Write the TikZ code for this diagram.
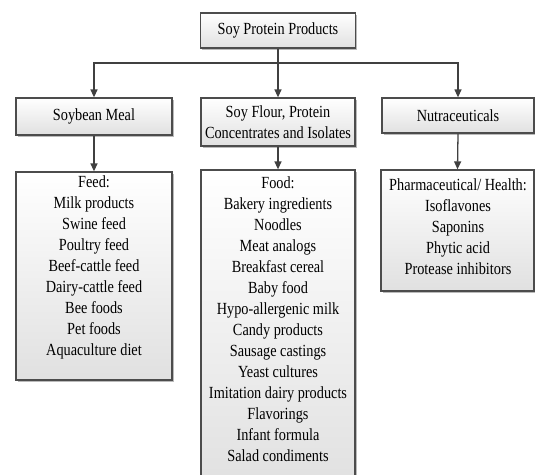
\documentclass[tikz,border=0pt]{standalone}
\usepackage{fontspec}
\setmainfont{Liberation Serif}[FakeStretch=0.84]
\usetikzlibrary{arrows.meta, shadows}

\begin{document}
\begin{tikzpicture}[x=1pt, y=-1pt,
    % 定义样式:框、连线、文字
    mybox/.style={rectangle, line width=0.45mm, draw=black!70, top color=white, bottom color=black!12, drop shadow={shadow xshift=1.5pt, shadow yshift=-1.5pt, fill=black!45, opacity=0.6}, inner sep=0pt},
    myline/.style={line width=0.45mm, draw=black!75},
    myarrow/.style={myline, -{Triangle[length=8pt, width=7pt]}},
    mytext/.style={font=\fontsize{17}{21}\selectfont, align=center, inner sep=0pt}
]
    \useasboundingbox (0,0) rectangle (535,474);
    \clip (0,0) rectangle (535,474);

    % 第一层
    \node [mybox, mytext, minimum width=155pt, minimum height=35pt] (spp) at (278, 30.5) {Soy Protein Products};

    % 第二层
    \node [mybox, mytext, minimum width=156pt, minimum height=37pt] (meal) at (94, 116.5) {Soybean Meal};
    \node [mybox, mytext, minimum width=154pt, minimum height=48pt] (flour) at (278, 122) {Soy Flour, Protein\\Concentrates and Isolates};
    \node [mybox, mytext, minimum width=152pt, minimum height=35pt] (nutra) at (458, 115.5) {Nutraceuticals};

    % 第三层:框和文字分开写
    \node [mybox, minimum width=156pt, minimum height=208pt] (feed) at (94, 276) {};
    \node [mytext, anchor=north] (feedtxt) at (94, 175) {Feed:\\Milk products\\Swine feed\\Poultry feed\\Beef-cattle feed\\Dairy-cattle feed\\Bee foods\\Pet foods\\Aquaculture diet};
    \node [mybox, minimum width=154pt, minimum height=320pt] (food) at (278, 330) {};
    \node [mytext, anchor=north] (foodtxt) at (278, 176) {Food:\\Bakery ingredients\\Noodles\\Meat analogs\\Breakfast cereal\\Baby food\\Hypo-allergenic milk\\Candy products\\Sausage castings\\Yeast cultures\\Imitation dairy products\\Flavorings\\Infant formula\\Salad condiments};
    \node [mybox, minimum width=153pt, minimum height=121pt] (pharma) at (457.5, 230.5) {};
    \node [mytext, anchor=north] (pharmatxt) at (458, 178) {Pharmaceutical/ Health:\\Isoflavones\\Saponins\\Phytic acid\\Protease inhibitors};

    % 连线
    \coordinate (bus) at (278, 63);
    \draw [myline] (spp.south) -- (bus);
    \draw [myarrow] (bus) -| (meal.north);
    \draw [myarrow] (bus) -- (flour.north);
    \draw [myarrow] (bus) -| (nutra.north);
    \draw [myarrow] (meal.south) -- (feed.north);
    \draw [myarrow] (flour.south) -- (food.north);
    \draw [myarrow] (nutra.south) -- (pharma.north);
\end{tikzpicture}
\end{document}
